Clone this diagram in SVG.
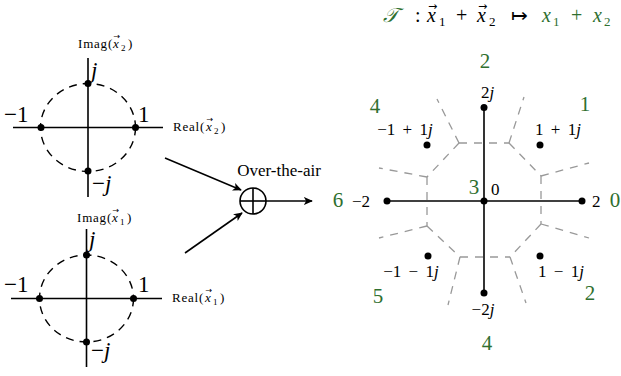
<svg xmlns="http://www.w3.org/2000/svg" width="621" height="376" viewBox="0 0 621 376">
<defs>
<marker id="ah" viewBox="0 0 10 10" refX="9" refY="5" markerWidth="9" markerHeight="9" markerUnits="userSpaceOnUse" orient="auto">
<path d="M0,0.5 L10,5 L0,9.5 L2.5,5 Z" fill="#000"/>
</marker>
<style>
.ax{stroke:#000;stroke-width:1.6;fill:none}
.dc{stroke:#000;stroke-width:1.4;fill:none;stroke-dasharray:8 6}
.vor{stroke:#999;stroke-width:1.3;fill:none;stroke-dasharray:8 7}
.dot{fill:#000}
.big{font-family:"Liberation Serif",serif;font-size:23px;fill:#000}
.mid{font-family:"Liberation Serif",serif;font-size:17px;fill:#000}
.tt{font-family:"Liberation Serif",serif;font-size:20px;fill:#000}
.ts{font-family:"Liberation Serif",serif;font-size:13px;fill:#000}
.sm{font-family:"Liberation Serif",serif;font-size:13px;fill:#000;letter-spacing:0.8px}
.sub{font-family:"Liberation Serif",serif;font-size:9px;fill:#000}
.vec{font-family:"DejaVu Sans",sans-serif;font-size:8px;fill:#000}
.vecT{font-family:"DejaVu Sans",sans-serif;font-size:11px;fill:#000}
.gr{font-family:"Liberation Serif",serif;font-size:21px;fill:#2f6f2f}
.g{fill:#2f6f2f}
.it{font-style:italic}
.arr{stroke:#000;stroke-width:1.6;fill:none;marker-end:url(#ah)}
</style>
</defs>

<g id="title">
<text class="tt g it" x="383" y="22">𝒯</text>
<text class="tt" x="415" y="22">:</text>
<text class="tt it" x="427" y="22">x</text>
<text class="vecT" x="428" y="9.5">→</text>
<text class="ts" x="439" y="26">1</text>
<text class="tt" x="456" y="22">+</text>
<text class="tt it" x="477" y="22">x</text>
<text class="vecT" x="478" y="9.5">→</text>
<text class="ts" x="489" y="26">2</text>
<text class="tt" x="511" y="22" font-size="22">↦</text>
<text class="tt g it" x="542" y="22">x</text>
<text class="ts g" x="553" y="26">1</text>
<text class="tt g" x="571" y="22">+</text>
<text class="tt g it" x="593" y="22">x</text>
<text class="ts g" x="604" y="26">2</text>
</g>

<g id="constellation-x2">
<ellipse class="dc" cx="88" cy="127.5" rx="47.5" ry="44"/>
<line class="ax" x1="13" y1="127.5" x2="163" y2="127.5"/>
<line class="ax" x1="88" y1="58" x2="88" y2="197"/>
<circle class="dot" cx="41" cy="127.5" r="3.5"/>
<circle class="dot" cx="135.5" cy="127.5" r="3.5"/>
<circle class="dot" cx="88" cy="83.5" r="3.5"/>
<circle class="dot" cx="88" cy="171" r="3.5"/>
<text class="big" x="4" y="122">−1</text>
<text class="big" x="138" y="122">1</text>
<text class="big it" x="91" y="78">j</text>
<text class="big" x="92" y="191">−<tspan class="it">j</tspan></text>
<text class="sm" x="78" y="48">Imag(</text>
<text class="sm it" x="113" y="48">x</text>
<text class="vec" x="113.5" y="38.5">→</text>
<text class="sub" x="121" y="51">2</text>
<text class="sm" x="128" y="48">)</text>
<text class="sm" x="173" y="131">Real(</text>
<text class="sm it" x="206" y="131">x</text>
<text class="vec" x="206.5" y="121.5">→</text>
<text class="sub" x="214" y="134">2</text>
<text class="sm" x="221" y="131">)</text>
</g>

<g id="constellation-x1">
<ellipse class="dc" cx="86.5" cy="298.5" rx="47" ry="43.5"/>
<line class="ax" x1="11" y1="298.5" x2="162" y2="298.5"/>
<line class="ax" x1="86.5" y1="229" x2="86.5" y2="367"/>
<circle class="dot" cx="39.5" cy="298.5" r="3.5"/>
<circle class="dot" cx="133.5" cy="298.5" r="3.5"/>
<circle class="dot" cx="86.5" cy="255" r="3.5"/>
<circle class="dot" cx="86.5" cy="342" r="3.5"/>
<text class="big" x="4" y="292">−1</text>
<text class="big" x="138" y="292">1</text>
<text class="big it" x="89" y="247">j</text>
<text class="big" x="91" y="358">−<tspan class="it">j</tspan></text>
<text class="sm" x="77" y="222">Imag(</text>
<text class="sm it" x="112" y="222">x</text>
<text class="vec" x="112.5" y="212.5">→</text>
<text class="sub" x="120" y="225">1</text>
<text class="sm" x="127" y="222">)</text>
<text class="sm" x="172" y="302">Real(</text>
<text class="sm it" x="205" y="302">x</text>
<text class="vec" x="205.5" y="292.5">→</text>
<text class="sub" x="213" y="305">1</text>
<text class="sm" x="220" y="302">)</text>
</g>

<g id="sum">
<circle cx="253" cy="201" r="13" fill="#fff" stroke="#000" stroke-width="1.6"/>
<line class="ax" x1="240" y1="201" x2="266" y2="201"/>
<line class="ax" x1="253" y1="188" x2="253" y2="214"/>
<text class="mid" x="279" y="176" text-anchor="middle" font-size="18.5">Over-the-air</text>
</g>

<g id="connectors">
<line class="arr" x1="165" y1="158" x2="241" y2="190"/>
<line class="arr" x1="185" y1="253" x2="242" y2="213"/>
<line class="arr" x1="266" y1="201" x2="312" y2="201"/>
</g>

<g id="voronoi">
<path class="vor" d="M459,143 L509,143"/>
<path class="vor" d="M459,143 L437,99"/>
<path class="vor" d="M509,143 L524,97"/>
<path class="vor" d="M459,143 L427,177"/>
<path class="vor" d="M509,143 L541,176"/>
<path class="vor" d="M427,177 L379,168"/>
<path class="vor" d="M541,176 L589,163"/>
<path class="vor" d="M427,177 L427,226"/>
<path class="vor" d="M541,176 L541,224"/>
<path class="vor" d="M427,226 L379,238"/>
<path class="vor" d="M541,224 L589,238"/>
<path class="vor" d="M427,226 L460,257"/>
<path class="vor" d="M541,224 L510,257"/>
<path class="vor" d="M460,257 L510,257"/>
<path class="vor" d="M460,257 L448,305"/>
<path class="vor" d="M510,257 L526,303"/>
</g>

<g id="constellation-sum">
<line class="ax" x1="387" y1="201" x2="582" y2="201"/>
<line class="ax" x1="484" y1="107" x2="484" y2="293"/>
<circle class="dot" cx="387" cy="201" r="3.5"/>
<circle class="dot" cx="582" cy="201" r="3.5"/>
<circle class="dot" cx="484" cy="201" r="3.5"/>
<circle class="dot" cx="484" cy="107.5" r="3.5"/>
<circle class="dot" cx="484" cy="293" r="3.5"/>
<circle class="dot" cx="427" cy="145" r="3.5"/>
<circle class="dot" cx="540" cy="145" r="3.5"/>
<circle class="dot" cx="428" cy="256" r="3.5"/>
<circle class="dot" cx="540" cy="256" r="3.5"/>
<text class="mid" x="481" y="98">2<tspan class="it">j</tspan></text>
<text class="mid" x="491" y="195">0</text>
<text class="mid" x="592" y="207">2</text>
<text class="mid" x="352" y="207">−2</text>
<text class="mid" x="405" y="135" text-anchor="middle" word-spacing="3">−1 + 1<tspan class="it">j</tspan></text>
<text class="mid" x="558" y="135" text-anchor="middle" word-spacing="3">1 + 1<tspan class="it">j</tspan></text>
<text class="mid" x="411" y="277" text-anchor="middle" word-spacing="3">−1 − 1<tspan class="it">j</tspan></text>
<text class="mid" x="561" y="277" text-anchor="middle" word-spacing="3">1 − 1<tspan class="it">j</tspan></text>
<text class="mid" x="483" y="315" text-anchor="middle">−2<tspan class="it">j</tspan></text>
</g>

<g id="labels-green">
<text class="gr" x="485" y="68" text-anchor="middle">2</text>
<text class="gr" x="375" y="113" text-anchor="middle">4</text>
<text class="gr" x="585" y="111" text-anchor="middle">1</text>
<text class="gr" x="474" y="194" text-anchor="middle">3</text>
<text class="gr" x="338" y="207" text-anchor="middle">6</text>
<text class="gr" x="615" y="207" text-anchor="middle">0</text>
<text class="gr" x="378" y="303" text-anchor="middle">5</text>
<text class="gr" x="590" y="300" text-anchor="middle">2</text>
<text class="gr" x="487" y="350" text-anchor="middle">4</text>
</g>
</svg>
